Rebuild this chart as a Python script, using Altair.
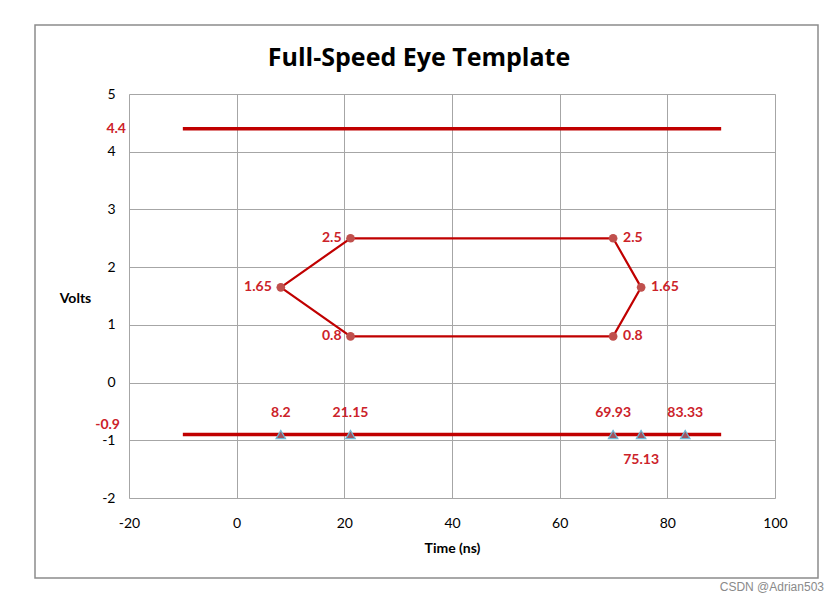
import altair as alt
import pandas as pd

# ---- data ----
eye_time = [8.2, 21.15, 69.93, 75.13, 69.93, 21.15, 8.2]
eye_volts = [1.65, 2.5, 2.5, 1.65, 0.8, 0.8, 1.65]
limit_time = [-10, 90]
upper_limit = 4.4
lower_limit = -0.9
marker_time = [8.2, 21.15, 69.93, 75.13, 83.33]
marker_labels = ["8.2", "21.15", "69.93", "75.13", "83.33"]
marker_pos = ["above", "above", "above", "below", "above"]
x_ticks = [-20, 0, 20, 40, 60, 80, 100]
y_ticks = [-2, -1, 0, 1, 2, 3, 4, 5]

RED = "#c00000"
LBL = "#cc2229"
GRID = "#a6a6a6"
FONT = "Lato"

limits = pd.DataFrame({
    "time": limit_time * 2,
    "volts": [upper_limit] * 2 + [lower_limit] * 2,
    "series": ["upper"] * 2 + ["lower"] * 2,
})
eye = pd.DataFrame({"time": eye_time, "volts": eye_volts, "order": list(range(len(eye_time)))})
verts = eye.iloc[:-1].copy()
verts["label"] = [f"{v:g}" for v in verts["volts"]]
verts["side"] = ["left", "left", "right", "right", "right", "left"]
markers = pd.DataFrame({"time": marker_time, "volts": [lower_limit] * len(marker_time),
                        "label": marker_labels, "pos": marker_pos})
limit_lbl = pd.DataFrame({"time": [-20, -20], "volts": [upper_limit, lower_limit],
                          "label": [f"{upper_limit:g}", f"{lower_limit:g}"],
                          "which": ["upper", "lower"]})

xs = alt.Scale(domain=[-20, 100], nice=False, zero=False)
ys = alt.Scale(domain=[-2, 5], nice=False, zero=False)

X = alt.X("time:Q", scale=xs, axis=alt.Axis(
    values=x_ticks, title="Time (ns)", grid=True, gridColor=GRID, gridWidth=1,
    domain=False, ticks=False, labelPadding=18, labelFontSize=14, labelFont=FONT,
    labelFlush=False, labelExpr="'' + datum.value",
    labelColor="black", titleFont=FONT, titleFontSize=14, titleFontWeight="bold",
    titleColor="black", titlePadding=11))
Y = alt.Y("volts:Q", scale=ys, axis=alt.Axis(
    values=y_ticks, title="Volts", grid=True, gridColor=GRID, gridWidth=1,
    domain=False, ticks=False, labelPadding=14, labelFontSize=14, labelFont=FONT,
    labelFlush=False, labelExpr="'' + datum.value",
    labelColor="black", titleFont=FONT, titleFontSize=14, titleFontWeight="bold",
    titleColor="black", titleAngle=0, titleX=-54, titleY=204,
    titleAlign="center", titleBaseline="middle"))

base_dummy = pd.DataFrame({"a": [0]})

frame = alt.Chart(base_dummy).mark_rect(fill=None, stroke="#8c8c8c", strokeWidth=1.5).encode(
    x=alt.value(-94), x2=alt.value(689), y=alt.value(-69), y2=alt.value(484))

title = alt.Chart(base_dummy).mark_text(
    text="Full-Speed Eye Template", font="Open Sans", fontSize=25, fontWeight="bold",
    color="black", baseline="middle", align="center").encode(
    x=alt.value(290), y=alt.value(-36))

watermark = alt.Chart(base_dummy).mark_text(
    text="CSDN @Adrian503", font="Liberation Sans", fontSize=12, color="#8a8a8a",
    align="right", baseline="middle").encode(x=alt.value(695), y=alt.value(493))

limit_lines = alt.Chart(limits).mark_line(color=RED, strokeWidth=3.5).encode(
    x=X, y=Y, detail="series:N")

eye_line = alt.Chart(eye).mark_line(color=RED, strokeWidth=2.2).encode(
    x=X, y=Y, order="order:Q")

eye_pts = alt.Chart(verts).mark_circle(size=75, color="#c0504d", opacity=1).encode(x=X, y=Y)

tri = alt.Chart(markers).mark_point(
    shape="triangle-up", filled=True, size=90, fill="#a0525e", stroke="#6fb8d4",
    strokeWidth=1.2, opacity=1).encode(x=X, y=Y)

txt = dict(font=FONT, fontSize=14, fontWeight="bold", color=LBL)

lbl_left = alt.Chart(verts).transform_filter("datum.side == 'left'").mark_text(
    align="right", baseline="middle", dx=-9, **txt).encode(x=X, y=Y, text="label:N")
lbl_right = alt.Chart(verts).transform_filter("datum.side == 'right'").mark_text(
    align="left", baseline="middle", dx=10, **txt).encode(x=X, y=Y, text="label:N")
lbl_above = alt.Chart(markers).transform_filter("datum.pos == 'above'").mark_text(
    align="center", baseline="middle", dy=-22, **txt).encode(x=X, y=Y, text="label:N")
lbl_below = alt.Chart(markers).transform_filter("datum.pos == 'below'").mark_text(
    align="center", baseline="middle", dy=25, **txt).encode(x=X, y=Y, text="label:N")
lbl_upper = alt.Chart(limit_lbl).transform_filter("datum.which == 'upper'").mark_text(
    align="right", baseline="middle", dx=-3, **txt).encode(x=X, y=Y, text="label:N")
lbl_lower = alt.Chart(limit_lbl).transform_filter("datum.which == 'lower'").mark_text(
    align="right", baseline="middle", dx=-9, dy=-10, **txt).encode(x=X, y=Y, text="label:N")

chart = alt.layer(
    frame, title, watermark, limit_lines, eye_line, eye_pts, tri,
    lbl_left, lbl_right, lbl_above, lbl_below, lbl_upper, lbl_lower
).properties(
    width=646, height=404,
    autosize=alt.AutoSizeParams(type="none"),
    padding={"left": 129, "top": 94, "right": 64, "bottom": 104},
).configure_view(stroke=GRID, strokeWidth=1).configure(background="white")

chart.save("out.html", embed_options={"renderer": "svg", "actions": False})
